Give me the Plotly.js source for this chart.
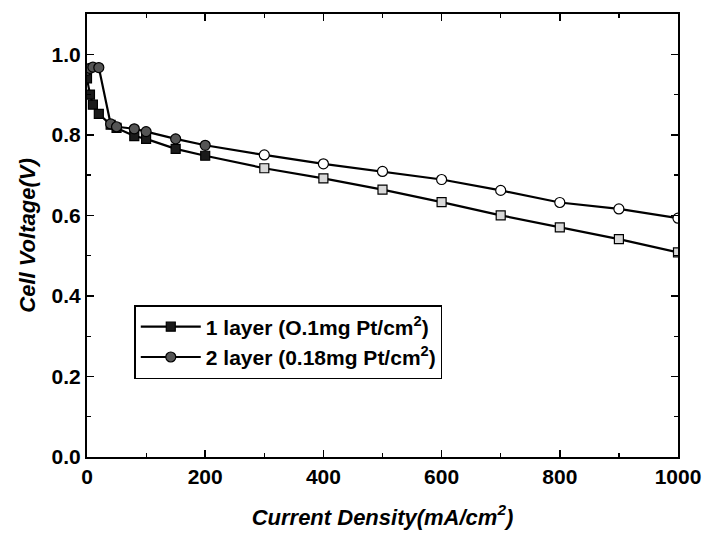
<!DOCTYPE html>
<html>
<head>
<meta charset="utf-8">
<script src="https://cdn.plot.ly/plotly-3.0.1.min.js"></script>
<style>html,body{margin:0;padding:0;background:#fff;}#chart{width:708px;height:539px;}</style>
</head>
<body>
<div id="chart"></div>
<script>
const currentDensity = [0, 5, 10, 20, 40, 50, 80, 100, 150, 200, 300, 400, 500, 600, 700, 800, 900, 1000];
const voltage1Layer = [0.94, 0.90, 0.875, 0.852, 0.825, 0.817, 0.797, 0.790, 0.765, 0.748, 0.717, 0.692, 0.664, 0.633, 0.600, 0.570, 0.541, 0.508];
const voltage2Layer = [0.96, 0.965, 0.968, 0.967, 0.827, 0.820, 0.815, 0.808, 0.790, 0.774, 0.750, 0.728, 0.709, 0.689, 0.662, 0.632, 0.616, 0.593];
const seriesNames = ['1 layer (O.1mg Pt/cm<sup>2</sup>)', '2 layer (0.18mg Pt/cm<sup>2</sup>)'];
const xTickVals = [0, 200, 400, 600, 800, 1000];
const yTickVals = [0.0, 0.2, 0.4, 0.6, 0.8, 1.0];

const sqFill = currentDensity.map(x => x <= 200 ? '#1a1a1a' : '#d8d8d8');
const ciFill = currentDensity.map(x => x <= 200 ? '#555' : '#ffffff');

const FONT = 'Liberation Sans, Arial, sans-serif';

const traces = [
  {x: currentDensity, y: voltage1Layer, name: seriesNames[0], type: 'scatter', mode: 'lines+markers',
   line: {color: '#000', width: 2.2},
   marker: {symbol: 'square', size: 9, color: sqFill, line: {color: '#000', width: 1.2}}},
  {x: currentDensity, y: voltage2Layer, name: seriesNames[1], type: 'scatter', mode: 'lines+markers',
   line: {color: '#000', width: 2.2},
   marker: {symbol: 'circle', size: 10, color: ciFill, line: {color: '#000', width: 1.2}}}
];

const axisCommon = {
  showline: true, linecolor: '#000', linewidth: 2, mirror: 'ticks',
  ticks: 'inside', ticklen: 7, tickwidth: 1.5, tickcolor: '#000',
  showgrid: false, zeroline: false,
  tickfont: {family: FONT, size: 21, color: '#000', weight: 'bold'}
};

const layout = {
  width: 708, height: 539,
  margin: {l: 87, r: 30, t: 14, b: 82},
  paper_bgcolor: '#fff', plot_bgcolor: '#fff',
  showlegend: true,
  legend: {x: 0.08, y: 0.343, xanchor: 'left', yanchor: 'top',
    bgcolor: '#fff', bordercolor: '#000', borderwidth: 1.5,
    itemwidth: 60,
    font: {family: FONT, size: 21, color: '#000', weight: 'bold'},
    tracegroupgap: 0},
  xaxis: Object.assign({}, axisCommon, {
    range: [0, 1000], tickvals: xTickVals, ticktext: xTickVals.map(String),
    minor: {dtick: 100, ticks: 'inside', ticklen: 4, tickcolor: '#000', tickwidth: 1.2},
    title: {text: '<i>Current Density(mA/cm<sup>2</sup>)</i>', standoff: 22,
      font: {family: FONT, size: 22, color: '#000', weight: 'bold'}}
  }),
  yaxis: Object.assign({}, axisCommon, {
    range: [0, 1.1], tickvals: yTickVals, ticktext: yTickVals.map(v => v.toFixed(1)),
    minor: {dtick: 0.1, ticks: 'inside', ticklen: 4, tickcolor: '#000', tickwidth: 1.2},
    title: {text: '<i>Cell Voltage(V)</i>', standoff: 10,
      font: {family: FONT, size: 22, color: '#000', weight: 'bold'}}
  })
};

Plotly.newPlot('chart', traces, layout, {displayModeBar: false, staticPlot: true});
</script>
</body>
</html>
